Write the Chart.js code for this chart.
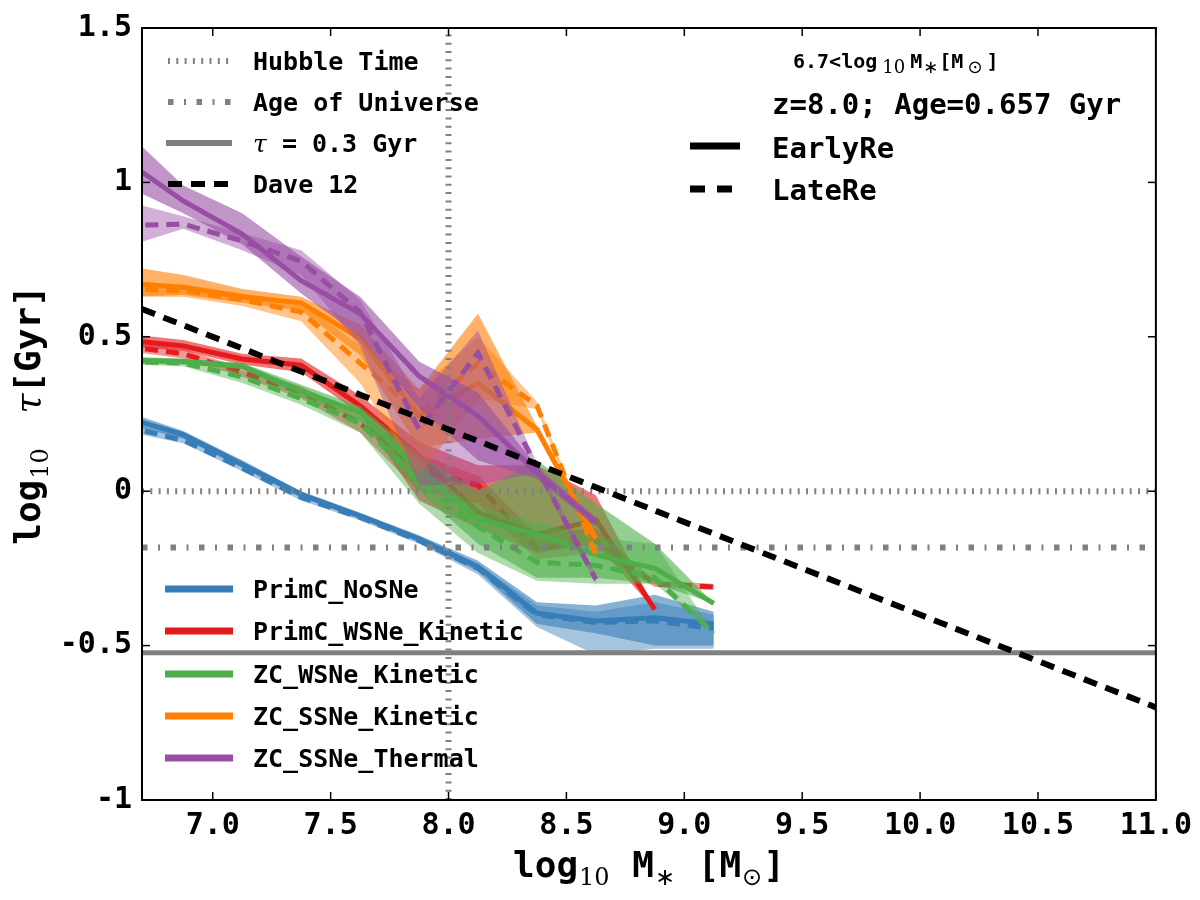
<!DOCTYPE html>
<html>
<head>
<meta charset="utf-8">
<script src="https://cdn.jsdelivr.net/npm/chart.js@4.4.1/dist/chart.umd.min.js"></script>
<style>
  body { margin: 0; background: #fff; }
  #tauChart { display: block; }
</style>
</head>
<body>
<canvas id="tauChart" width="1200" height="900"></canvas>
<script>
// mass bin centres (log10 M*)
const massBins = [6.625, 6.875, 7.125, 7.375, 7.625, 7.875, 8.125, 8.375, 8.625, 8.875, 9.125];

const xTickValues = [7.0, 7.5, 8.0, 8.5, 9.0, 9.5, 10.0, 10.5, 11.0];
const yTickValues = [-1, -0.5, 0, 0.5, 1, 1.5];
const yTickLabels = ['-1', '-0.5', '0', '0.5', '1', '1.5'];

// PrimC_NoSNe
const noSNeEarly   = [0.24, 0.183, 0.087, -0.01, -0.08, -0.154, -0.244, -0.395, -0.42, -0.41, -0.43];
const noSNeEarlyHi = [0.26, 0.195, 0.10, 0.0, -0.07, -0.143, -0.225, -0.36, -0.37, -0.335, -0.39];
const noSNeEarlyLo = [0.22, 0.17, 0.075, -0.02, -0.09, -0.165, -0.26, -0.43, -0.46, -0.50, -0.50];
const noSNeLate    = [0.21, 0.165, 0.075, -0.02, -0.085, -0.16, -0.25, -0.40, -0.425, -0.42, -0.445];
const noSNeLateHi  = [0.225, 0.178, 0.085, -0.01, -0.075, -0.15, -0.235, -0.37, -0.39, -0.36, -0.40];
const noSNeLateLo  = [0.195, 0.155, 0.065, -0.03, -0.095, -0.17, -0.27, -0.44, -0.53, -0.51, -0.51];

// PrimC_WSNe_Kinetic
const wsneEarly   = [0.49, 0.47, 0.428, 0.408, 0.277, 0.115, -0.068, -0.14, -0.093, -0.383];
const wsneEarlyHi = [0.51, 0.49, 0.445, 0.43, 0.31, 0.16, 0.084, 0.084, -0.013, -0.38];
const wsneEarlyLo = [0.47, 0.455, 0.41, 0.385, 0.25, -0.03, -0.12, -0.2, -0.17, -0.385];
const wsneLate    = [0.47, 0.445, 0.385, 0.32, 0.22, 0.068, 0.02, -0.186, -0.158, -0.30, -0.31];
const wsneLateHi  = [0.485, 0.46, 0.40, 0.34, 0.245, 0.12, 0.05, -0.14, -0.12, -0.29, -0.30];
const wsneLateLo  = [0.455, 0.43, 0.37, 0.30, 0.19, 0.0, -0.04, -0.22, -0.20, -0.31, -0.32];

// ZC_WSNe_Kinetic
const zcwEarly   = [0.425, 0.42, 0.405, 0.325, 0.254, 0.07, -0.09, -0.14, -0.206, -0.25, -0.363];
const zcwEarlyHi = [0.435, 0.43, 0.415, 0.345, 0.275, 0.12, 0.0, 0.10, -0.04, -0.17, -0.363];
const zcwEarlyLo = [0.415, 0.41, 0.395, 0.305, 0.23, 0.0, -0.17, -0.28, -0.28, -0.30, -0.363];
const zcwLate    = [0.42, 0.415, 0.37, 0.30, 0.22, 0.03, -0.115, -0.23, -0.24, -0.28, -0.46];
const zcwLateHi  = [0.43, 0.425, 0.39, 0.32, 0.24, 0.07, -0.05, -0.10, -0.15, -0.17, -0.46];
const zcwLateLo  = [0.41, 0.405, 0.35, 0.28, 0.19, -0.04, -0.20, -0.29, -0.30, -0.30, -0.46];

// ZC_SSNe_Kinetic
const zcsEarly   = [0.675, 0.66, 0.63, 0.61, 0.495, 0.244, 0.35, 0.20, -0.154];
const zcsEarlyHi = [0.73, 0.70, 0.655, 0.63, 0.54, 0.33, 0.575, 0.21, -0.145];
const zcsEarlyLo = [0.63, 0.635, 0.61, 0.585, 0.44, 0.14, 0.17, 0.19, -0.165];
const zcsLate    = [0.655, 0.65, 0.62, 0.58, 0.415, 0.254, 0.415, 0.277, -0.206];
const zcsLateHi  = [0.68, 0.67, 0.64, 0.61, 0.47, 0.33, 0.50, 0.29, -0.19];
const zcsLateLo  = [0.63, 0.63, 0.60, 0.55, 0.35, 0.05, 0.30, 0.265, -0.22];

// ZC_SSNe_Thermal
const zctEarly   = [1.074, 0.94, 0.833, 0.682, 0.575, 0.373, 0.244, 0.06, -0.10];
const zctEarlyHi = [1.17, 0.99, 0.90, 0.76, 0.63, 0.42, 0.32, 0.08, -0.085];
const zctEarlyLo = [0.99, 0.90, 0.80, 0.64, 0.50, 0.27, 0.10, 0.04, -0.115];
const zctLate    = [0.86, 0.865, 0.81, 0.745, 0.58, 0.20, 0.447, 0.077, -0.286];
const zctLateHi  = [0.94, 0.89, 0.835, 0.78, 0.62, 0.30, 0.52, 0.09, -0.27];
const zctLateLo  = [0.79, 0.85, 0.78, 0.70, 0.47, 0.02, 0.02, 0.06, -0.30];

// reference lines
const hubbleTime = 0.0;          // log10 tau
const ageOfUniverse = -0.182;    // log10(0.657)
const tauShort = -0.523;         // log10(0.3)
const daveX = [6.7, 11.0];
const daveY = [0.59, -0.70];

const MONO = '"DejaVu Sans Mono", monospace';
const GREY = '#808080';
const DOTTED = [2, 6.3];
const DASHDOT = [5.5, 10.5, 2, 10.5];
const DAVE_DASH = [14, 9];
const SERIES_DASH = [13, 8];

const models = [
  { name: 'PrimC_NoSNe', rgb: '55,126,184', early: [noSNeEarly, noSNeEarlyLo, noSNeEarlyHi], late: [noSNeLate, noSNeLateLo, noSNeLateHi] },
  { name: 'PrimC_WSNe_Kinetic', rgb: '228,26,28', early: [wsneEarly, wsneEarlyLo, wsneEarlyHi], late: [wsneLate, wsneLateLo, wsneLateHi] },
  { name: 'ZC_WSNe_Kinetic', rgb: '77,175,74', early: [zcwEarly, zcwEarlyLo, zcwEarlyHi], late: [zcwLate, zcwLateLo, zcwLateHi] },
  { name: 'ZC_SSNe_Kinetic', rgb: '255,127,0', early: [zcsEarly, zcsEarlyLo, zcsEarlyHi], late: [zcsLate, zcsLateLo, zcsLateHi] },
  { name: 'ZC_SSNe_Thermal', rgb: '152,78,163', early: [zctEarly, zctEarlyLo, zctEarlyHi], late: [zctLate, zctLateLo, zctLateHi] }
];

function pts(vals) {
  return vals.map((v, i) => ({ x: massBins[i], y: v }));
}

const datasets = [];
function addBand(lo, hi, rgb, alpha) {
  datasets.push({ data: pts(lo), borderWidth: 0, pointRadius: 0, fill: false });
  datasets.push({ data: pts(hi), borderWidth: 0, pointRadius: 0, fill: '-1',
                  backgroundColor: 'rgba(' + rgb + ',' + alpha + ')' });
}
function addLine(data, color, width, dash) {
  datasets.push({ data: data, borderColor: color, borderWidth: width, borderDash: dash,
                  pointRadius: 0, fill: false });
}

models.forEach(m => {
  addBand(m.early[1], m.early[2], m.rgb, 0.6);
  addBand(m.late[1], m.late[2], m.rgb, 0.45);
  addLine(pts(m.early[0]), 'rgb(' + m.rgb + ')', 5, []);
  addLine(pts(m.late[0]), 'rgb(' + m.rgb + ')', 5, SERIES_DASH);
});

// reference lines go on top
addLine([{ x: 6.7, y: hubbleTime }, { x: 11.0, y: hubbleTime }], GREY, 6, DOTTED);
addLine([{ x: 8.0, y: -1 }, { x: 8.0, y: 1.5 }], GREY, 6, DOTTED);
addLine([{ x: 6.7, y: ageOfUniverse }, { x: 11.0, y: ageOfUniverse }], GREY, 6, DASHDOT);
addLine([{ x: 6.7, y: tauShort }, { x: 11.0, y: tauShort }], GREY, 5, []);
addLine(daveX.map((x, i) => ({ x: x, y: daveY[i] })), '#000', 6, DAVE_DASH);

// first pushed = bottom
datasets.forEach((d, i) => { d.order = datasets.length - i; d.clip = 0; });

function bold(n) { return 'bold ' + n + 'px ' + MONO; }
function serif(n, style) { return (style || '') + ' ' + n + 'px "DejaVu Serif", serif'; }
function sans(n) { return n + 'px "DejaVu Sans", sans-serif'; }

function drawRuns(ctx, runs, x, y, align) {
  let w = 0;
  runs.forEach(r => { ctx.font = r.font; r.w = ctx.measureText(r.t).width + (r.pad || 0); w += r.w; });
  let cx = align === 'center' ? x - w / 2 : x;
  ctx.textAlign = 'left';
  ctx.textBaseline = 'alphabetic';
  runs.forEach(r => {
    ctx.font = r.font;
    ctx.fillText(r.t, cx + (r.pad || 0) / 2, y + (r.dy || 0));
    cx += r.w;
  });
}

function seg(ctx, x1, y1, x2, y2, color, width, dash) {
  ctx.save();
  ctx.strokeStyle = color;
  ctx.lineWidth = width;
  ctx.setLineDash(dash || []);
  ctx.lineCap = 'butt';
  ctx.beginPath();
  ctx.moveTo(x1, y1);
  ctx.lineTo(x2, y2);
  ctx.stroke();
  ctx.restore();
}

const decorPlugin = {
  id: 'decor',
  afterDraw(chart) {
    const ctx = chart.ctx;
    const a = chart.chartArea;
    const xs = chart.scales.x, ys = chart.scales.y;
    ctx.save();

    // inward ticks on all four sides
    xTickValues.forEach(v => {
      const px = xs.getPixelForValue(v);
      seg(ctx, px, a.bottom, px, a.bottom - 8, '#000', 1.5);
      seg(ctx, px, a.top, px, a.top + 8, '#000', 1.5);
    });
    yTickValues.forEach(v => {
      const py = ys.getPixelForValue(v);
      seg(ctx, a.left, py, a.left + 8, py, '#000', 1.5);
      seg(ctx, a.right, py, a.right - 8, py, '#000', 1.5);
    });
    ctx.strokeStyle = '#000';
    ctx.lineWidth = 2;
    ctx.setLineDash([]);
    ctx.strokeRect(a.left, a.top, a.right - a.left, a.bottom - a.top);

    ctx.fillStyle = '#000';

    // top-left legend
    seg(ctx, 168, 61, 232, 61, GREY, 6, DOTTED);
    seg(ctx, 168, 102, 232, 102, GREY, 6, DASHDOT);
    seg(ctx, 166, 143, 232, 143, GREY, 6, []);
    seg(ctx, 168, 184, 232, 184, '#000', 6, DAVE_DASH);
    drawRuns(ctx, [{ t: 'Hubble Time', font: bold(25) }], 253, 70);
    drawRuns(ctx, [{ t: 'Age of Universe', font: bold(25) }], 253, 111);
    drawRuns(ctx, [{ t: 'τ', font: serif(25, 'italic') }, { t: ' = 0.3 Gyr', font: bold(25) }], 253, 152);
    drawRuns(ctx, [{ t: 'Dave 12', font: bold(25) }], 253, 193);

    // bottom-left legend (models)
    const rows = [589, 631, 674, 716, 758];
    models.forEach((m, i) => {
      seg(ctx, 165, rows[i], 233, rows[i], 'rgb(' + m.rgb + ')', 7, []);
      drawRuns(ctx, [{ t: m.name, font: bold(25) }], 253, rows[i] + 9);
    });

    // top-right legend
    drawRuns(ctx, [
      { t: '6.7<log', font: bold(20) },
      { t: '10', font: serif(18), dy: 5, pad: 10 },
      { t: 'M', font: bold(20) },
      { t: '∗', font: sans(18), dy: 5, pad: 2 },
      { t: '[M', font: bold(20) },
      { t: '⊙', font: sans(18), dy: 5, pad: 8 },
      { t: ']', font: bold(20) }
    ], 793, 68);
    drawRuns(ctx, [{ t: 'z=8.0; Age=0.657 Gyr', font: bold(29) }], 772, 114);
    seg(ctx, 690, 146, 740, 146, '#000', 7, []);
    seg(ctx, 690, 189, 735, 189, '#000', 7, [15, 12]);
    drawRuns(ctx, [{ t: 'EarlyRe', font: bold(29) }], 772, 158);
    drawRuns(ctx, [{ t: 'LateRe', font: bold(29) }], 772, 200);

    // x axis title
    drawRuns(ctx, [
      { t: 'log', font: bold(36) },
      { t: '10', font: serif(24), dy: 8, pad: 2 },
      { t: ' M', font: bold(36) },
      { t: '∗', font: sans(24), dy: 8, pad: 2 },
      { t: ' [M', font: bold(36) },
      { t: '⊙', font: sans(24), dy: 8, pad: 2 },
      { t: ']', font: bold(36) }
    ], (a.left + a.right) / 2, 877, 'center');

    // y axis title
    ctx.save();
    ctx.translate(40, 415);
    ctx.rotate(-Math.PI / 2);
    drawRuns(ctx, [
      { t: 'log', font: bold(36) },
      { t: '10', font: serif(24), dy: 8, pad: 2 },
      { t: '  ', font: bold(28) },
      { t: 'τ', font: serif(36, 'italic') },
      { t: '[Gyr]', font: bold(36) }
    ], 0, 0, 'center');
    ctx.restore();

    ctx.restore();
  }
};

const tickFont = { family: MONO, weight: 'bold', size: 30 };

new Chart(document.getElementById('tauChart'), {
  type: 'line',
  data: { datasets: datasets },
  options: {
    responsive: false,
    animation: false,
    devicePixelRatio: 1,
    layout: { padding: { top: 22, right: 43, left: 0, bottom: 0 } },
    elements: { line: { tension: 0 }, point: { radius: 0 } },
    plugins: {
      legend: { display: false },
      tooltip: { enabled: false },
      filler: { propagate: false }
    },
    scales: {
      x: {
        type: 'linear',
        min: 6.7,
        max: 11.0,
        grid: { display: false, drawTicks: false },
        border: { display: false },
        afterBuildTicks: s => { s.ticks = xTickValues.map(v => ({ value: v })); },
        afterFit: s => { s.height = 100; },
        ticks: { font: tickFont, color: '#000', padding: 8, maxRotation: 0, autoSkip: false,
                 callback: v => Number(v).toFixed(1) }
      },
      y: {
        type: 'linear',
        min: -1,
        max: 1.5,
        grid: { display: false, drawTicks: false },
        border: { display: false },
        afterBuildTicks: s => { s.ticks = yTickValues.map(v => ({ value: v })); },
        afterFit: s => { s.width = 142; },
        ticks: { font: tickFont, color: '#000', padding: 10, autoSkip: false,
                 callback: v => yTickLabels[yTickValues.indexOf(v)] }
      }
    }
  },
  plugins: [decorPlugin]
});
</script>
</body>
</html>
